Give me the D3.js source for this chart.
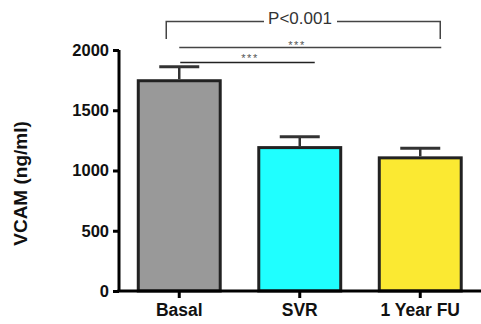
<!DOCTYPE html>
<html>
<head>
<meta charset="utf-8">
<script src="https://cdn.jsdelivr.net/npm/d3@7"></script>
<style>
  body { margin: 0; background: #fff; }
  text { font-family: Arial, "Liberation Sans", sans-serif; }
</style>
</head>
<body>
<div id="container"></div>
<script>
/* DATA */
const groups = ["Basal", "SVR", "1 Year FU"];
const means = [1745, 1190, 1105];
const errors = [115, 90, 80];
const colors = ["#999999", "#1fffff", "#fbe932"];
const yTicks = [0, 500, 1000, 1500, 2000];

/* CONSTANTS */
const width = 481, height = 324;
const margin = { top: 50, bottom: 33, left: 119, right: 0 };
const font = "Arial, 'Liberation Sans', sans-serif";

const svg = d3.select("#container")
  .append("svg")
  .attr("width", width)
  .attr("height", height);

/* SCALES */
const xScale = d3.scaleBand()
  .domain(groups)
  .range([margin.left, margin.left + 3 * 120.5])
  .paddingInner(0.32)
  .paddingOuter(0.16);

const yScale = d3.scaleLinear()
  .domain([0, 2000])
  .range([height - margin.bottom, margin.top]);

/* BARS */
svg.selectAll("rect.bar")
  .data(groups)
  .join("rect")
  .attr("class", "bar")
  .attr("x", d => xScale(d))
  .attr("width", xScale.bandwidth())
  .attr("y", (d, i) => yScale(means[i]))
  .attr("height", (d, i) => yScale(0) - yScale(means[i]))
  .attr("fill", (d, i) => colors[i])
  .attr("stroke", "#222")
  .attr("stroke-width", 3);

/* ERROR BARS */
const cx = d => xScale(d) + xScale.bandwidth() / 2;
svg.selectAll("line.stem")
  .data(groups)
  .join("line")
  .attr("class", "stem")
  .attr("x1", cx).attr("x2", cx)
  .attr("y1", (d, i) => yScale(means[i]) - 1.5)
  .attr("y2", (d, i) => yScale(means[i] + errors[i]))
  .attr("stroke", "#333")
  .attr("stroke-width", 2.5);

svg.selectAll("line.cap")
  .data(groups)
  .join("line")
  .attr("class", "cap")
  .attr("x1", d => cx(d) - 20).attr("x2", d => cx(d) + 20)
  .attr("y1", (d, i) => yScale(means[i] + errors[i]))
  .attr("y2", (d, i) => yScale(means[i] + errors[i]))
  .attr("stroke", "#333")
  .attr("stroke-width", 3);

/* AXES */
const yAxis = d3.axisLeft(yScale).tickValues(yTicks).tickSize(6).tickPadding(4).tickFormat(d3.format("d"));
const gy = svg.append("g")
  .attr("transform", `translate(${margin.left},0)`)
  .call(yAxis);
gy.select(".domain").attr("d", `M0,${yScale(2000)}V${yScale(0)}`).attr("stroke", "#000").attr("stroke-width", 3);
gy.selectAll(".tick line").attr("stroke", "#000").attr("stroke-width", 3);
gy.selectAll(".tick text")
  .attr("font-size", 16.5).attr("font-weight", "bold").attr("fill", "#111")
  .attr("font-family", font);

const xAxis = d3.axisBottom(xScale).tickSize(7).tickPadding(6);
const gx = svg.append("g")
  .attr("transform", `translate(0,${yScale(0)})`)
  .call(xAxis);
gx.select(".domain").attr("d", `M${margin.left - 1.5},0H${width}`).attr("stroke", "#000").attr("stroke-width", 3);
gx.selectAll(".tick line").attr("stroke", "#000").attr("stroke-width", 3);
gx.selectAll(".tick text")
  .attr("font-size", 17.5).attr("font-weight", "bold").attr("fill", "#111")
  .attr("font-family", font);

/* Y LABEL */
svg.append("text")
  .attr("transform", `translate(27,183.5) rotate(-90)`)
  .attr("text-anchor", "middle")
  .attr("font-size", 19)
  .attr("font-weight", "bold")
  .attr("fill", "#111")
  .text("VCAM (ng/ml)");

/* SIGNIFICANCE BRACKETS */
const ink = "#444";
const x0 = cx("Basal"), x1 = cx("SVR"), x2 = cx("1 Year FU");

// P<0.001 bracket
svg.append("path")
  .attr("d", `M${x0 - 13},39V21.5H264M337,21.5H${x2 + 20}V39`)
  .attr("fill", "none").attr("stroke", ink).attr("stroke-width", 1.5);
svg.append("text")
  .attr("x", 300).attr("y", 24)
  .attr("text-anchor", "middle")
  .attr("font-size", 17)
  .attr("fill", "#333")
  .text("P<0.001");

// Basal vs 1 Year FU
svg.append("line")
  .attr("x1", x0).attr("x2", x2 + 21)
  .attr("y1", 47.5).attr("y2", 47.5)
  .attr("stroke", ink).attr("stroke-width", 1.5);
svg.append("text")
  .attr("x", 297).attr("y", 49)
  .attr("text-anchor", "middle")
  .attr("font-size", 11)
  .attr("letter-spacing", 1.5)
  .attr("fill", "#555")
  .text("***");

// Basal vs SVR
svg.append("line")
  .attr("x1", x0 + 1).attr("x2", x1 + 15)
  .attr("y1", 62.5).attr("y2", 62.5)
  .attr("stroke", "#222").attr("stroke-width", 1.5);
svg.append("text")
  .attr("x", 250).attr("y", 62)
  .attr("text-anchor", "middle")
  .attr("font-size", 11)
  .attr("letter-spacing", 1.5)
  .attr("fill", "#555")
  .text("***");
</script>
</body>
</html>
